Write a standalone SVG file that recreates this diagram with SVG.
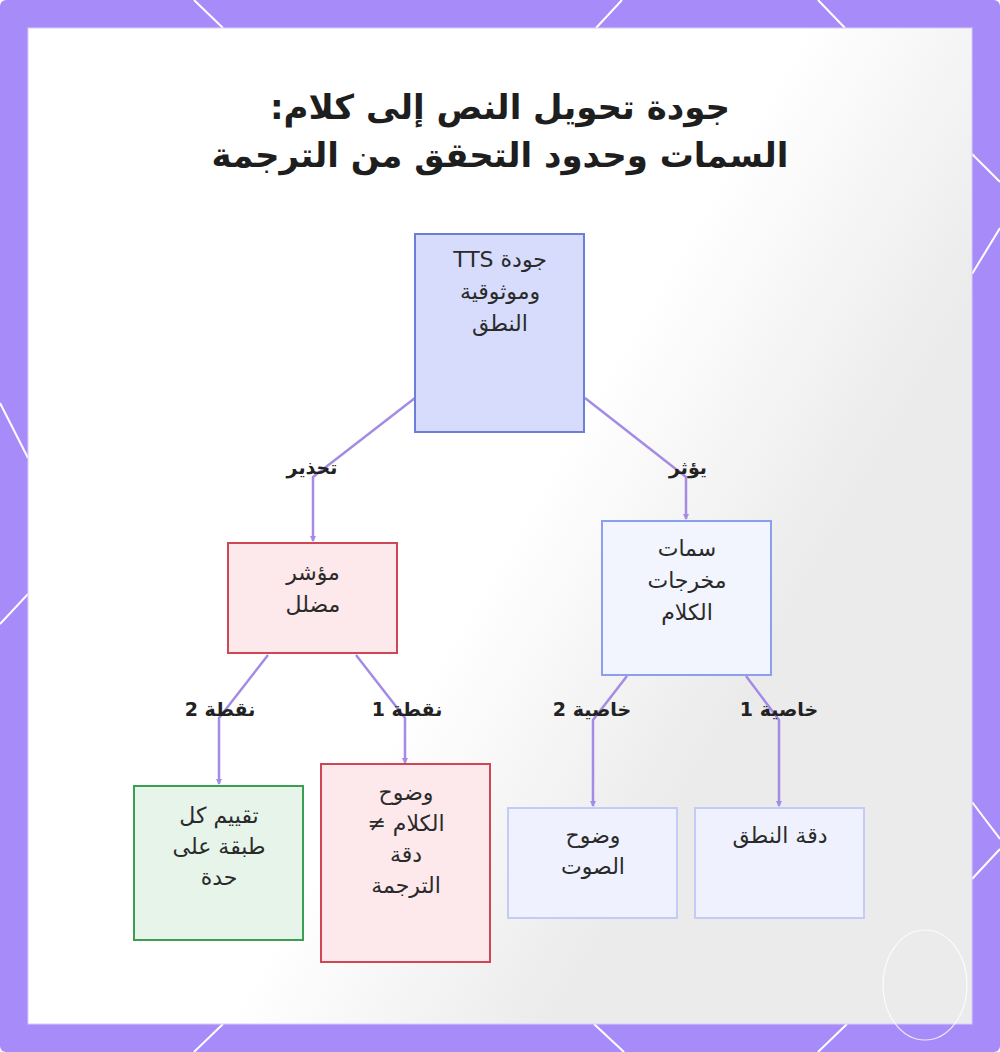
<svg xmlns="http://www.w3.org/2000/svg" width="1000" height="1052" viewBox="0 0 1000 1052">
<defs>
  <style>
    text{direction:rtl;unicode-bidi:embed}
    .title{font-family:"DejaVu Sans","Noto Sans",sans-serif;font-weight:bold;font-size:34px;fill:#1e1e1e;text-anchor:middle}
    .nt{font-family:"DejaVu Sans","Noto Sans",sans-serif;font-size:22px;fill:#2a2a2a;text-anchor:middle}
    .lbl{font-family:"DejaVu Sans","Noto Sans",sans-serif;font-weight:bold;font-size:19px;fill:#222;text-anchor:middle}
    .edge{fill:none;stroke:#a48be6;stroke-width:2.5;stroke-linejoin:round}
    .deco{stroke:#ffffff;stroke-width:2;fill:none}
    .nblue{fill:#d7dbfc;stroke:#6c7fd6;stroke-width:2}
    .nred{fill:#fde8eb;stroke:#cf4654;stroke-width:2}
    .npale{fill:#f2f4fe;stroke:#8c9fee;stroke-width:2}
    .ngreen{fill:#e7f4ea;stroke:#3b9f52;stroke-width:2}
    .nlight{fill:#eff2fe;stroke:#c4ccf6;stroke-width:2}
  </style>
  <linearGradient id="bg" gradientUnits="userSpaceOnUse" x1="520" y1="520" x2="760" y2="660">
    <stop offset="0" stop-color="#ffffff"/>
    <stop offset="1" stop-color="#ebebeb"/>
  </linearGradient>
  <marker id="arr" markerWidth="6" markerHeight="6" refX="5" refY="3" orient="auto" markerUnits="userSpaceOnUse">
    <path d="M0,0 L6,3 L0,6 z" fill="#a48be6"/>
  </marker>
</defs>

<rect x="0" y="0" width="1000" height="1052" rx="6" fill="#a78bf9"/>
<g id="decor">
  <line class="deco" x1="194" y1="0" x2="223" y2="28"/>
  <line class="deco" x1="622" y1="0" x2="596" y2="28"/>
  <line class="deco" x1="818" y1="0" x2="845" y2="28"/>
  <line class="deco" x1="223" y1="1024" x2="194" y2="1052"/>
  <line class="deco" x1="594" y1="1024" x2="624" y2="1052"/>
  <line class="deco" x1="847" y1="1024" x2="818" y2="1052"/>
  <line class="deco" x1="0" y1="403" x2="28" y2="458"/>
  <line class="deco" x1="28" y1="594" x2="0" y2="624"/>
  <line class="deco" x1="972" y1="154" x2="1000" y2="182"/>
  <line class="deco" x1="1000" y1="228" x2="972" y2="274"/>
  <line class="deco" x1="972" y1="802" x2="1000" y2="839"/>
  <line class="deco" x1="1000" y1="849" x2="972" y2="879"/>
</g>
<rect x="28" y="28" width="944" height="996" fill="url(#bg)" stroke="#d9ccfb" stroke-width="1"/>
<ellipse cx="925" cy="985" rx="42" ry="55" fill="none" stroke="#ffffff" stroke-width="1.2" opacity="0.8"/>

<g id="title">
  <text class="title" x="500" y="119">جودة تحويل النص إلى كلام:</text>
  <text class="title" x="500" y="167">السمات وحدود التحقق من الترجمة</text>
</g>

<g id="connectors">
  <polyline class="edge" points="415,398 313,477 313,541" marker-end="url(#arr)"/>
  <polyline class="edge" points="585,398 686,477 686,519" marker-end="url(#arr)"/>
  <polyline class="edge" points="268,655 219,718 219,784" marker-end="url(#arr)"/>
  <polyline class="edge" points="356,655 405,718 405,763" marker-end="url(#arr)"/>
  <polyline class="edge" points="627,676 593,720 593,806" marker-end="url(#arr)"/>
  <polyline class="edge" points="746,676 779,720 779,806" marker-end="url(#arr)"/>
  <text class="lbl" x="312" y="474">تحذير</text>
  <text class="lbl" x="688" y="474">يؤثر</text>
  <text class="lbl" x="220" y="716">نقطة 2</text>
  <text class="lbl" x="407" y="716">نقطة 1</text>
  <text class="lbl" x="592" y="716">خاصية 2</text>
  <text class="lbl" x="779" y="716">خاصية 1</text>
</g>

<g id="n-root">
  <rect class="nblue" x="415" y="234" width="169" height="198"/>
  <text class="nt" x="500" y="267">جودة TTS</text>
  <text class="nt" x="500" y="299">وموثوقية</text>
  <text class="nt" x="500" y="331">النطق</text>
</g>
<g id="n-misleading">
  <rect class="nred" x="228" y="543" width="169" height="110"/>
  <text class="nt" x="313" y="580">مؤشر</text>
  <text class="nt" x="313" y="612">مضلل</text>
</g>
<g id="n-features">
  <rect class="npale" x="602" y="521" width="169" height="154"/>
  <text class="nt" x="687" y="556">سمات</text>
  <text class="nt" x="687" y="588">مخرجات</text>
  <text class="nt" x="687" y="620">الكلام</text>
</g>
<g id="n-evaluate">
  <rect class="ngreen" x="134" y="786" width="169" height="154"/>
  <text class="nt" x="219" y="823">تقييم كل</text>
  <text class="nt" x="219" y="854">طبقة على</text>
  <text class="nt" x="219" y="885">حدة</text>
</g>
<g id="n-clarity">
  <rect class="nred" x="321" y="764" width="169" height="198"/>
  <text class="nt" x="406" y="800">وضوح</text>
  <text class="nt" x="406" y="831">الكلام ≠</text>
  <text class="nt" x="406" y="862">دقة</text>
  <text class="nt" x="406" y="893">الترجمة</text>
</g>
<g id="n-voice">
  <rect class="nlight" x="508" y="808" width="169" height="110"/>
  <text class="nt" x="593" y="843">وضوح</text>
  <text class="nt" x="593" y="874">الصوت</text>
</g>
<g id="n-pronunciation">
  <rect class="nlight" x="695" y="808" width="169" height="110"/>
  <text class="nt" x="780" y="843">دقة النطق</text>
</g>
</svg>
